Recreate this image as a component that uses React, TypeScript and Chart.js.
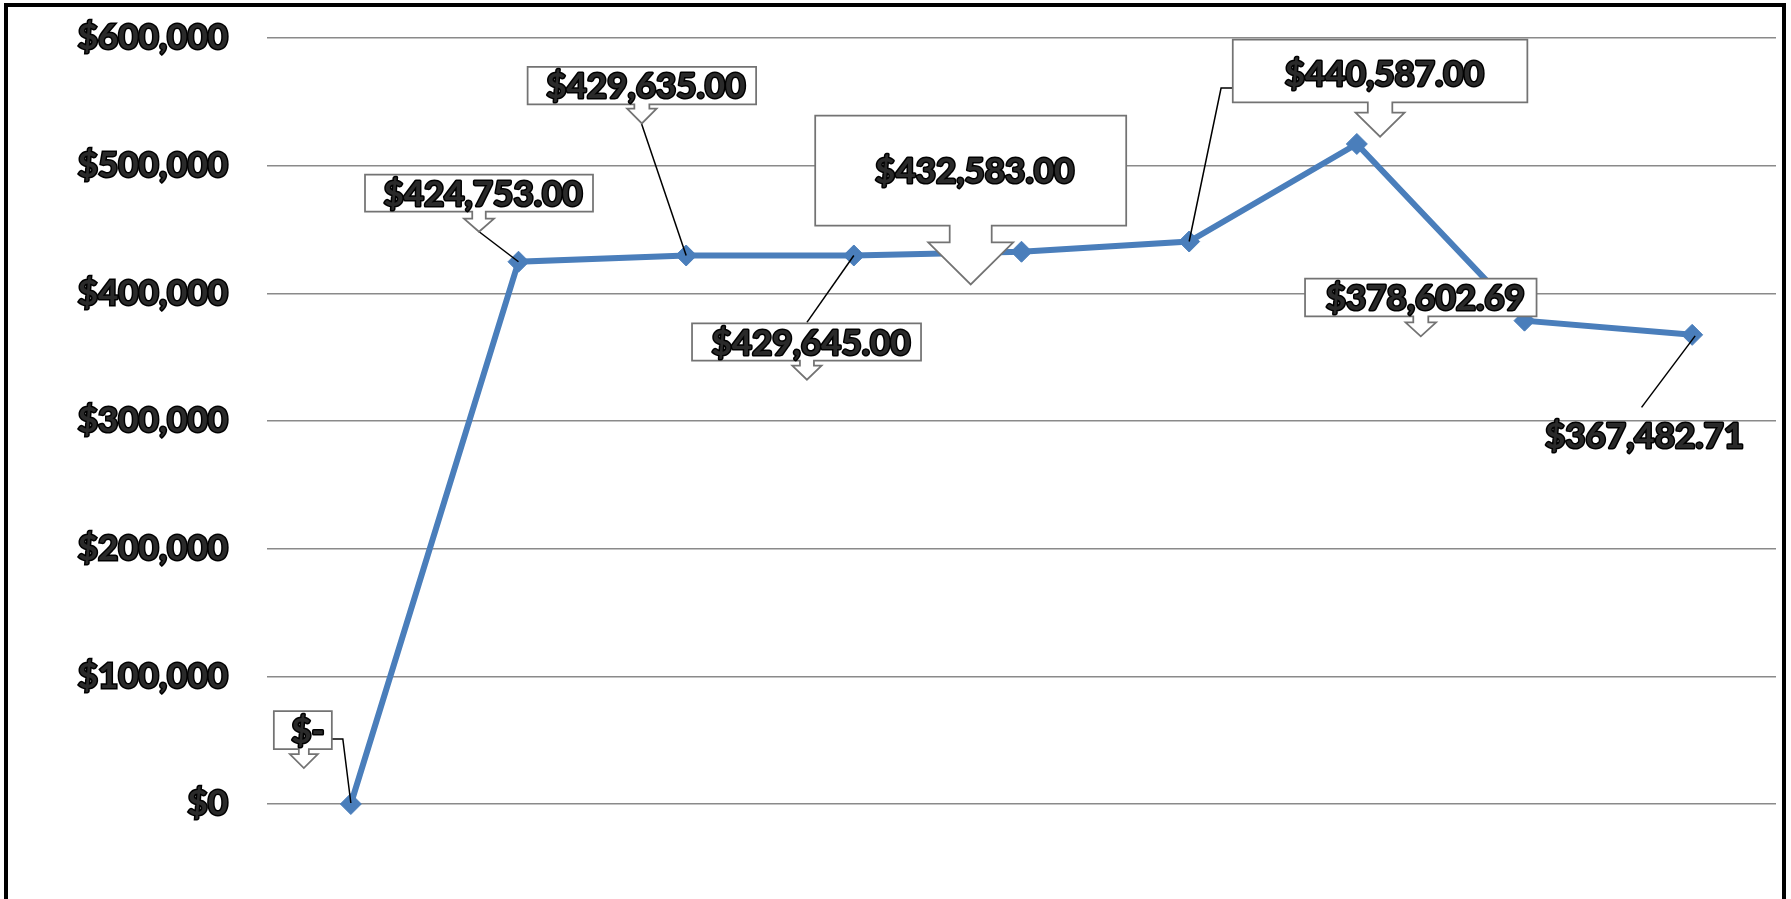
import React, { useEffect, useRef } from "react";
import { Chart, registerables } from "chart.js";

Chart.register(...registerables);

// ---- data ----
const periods = ["1", "2", "3", "4", "5", "6", "7", "8", "9"];
const balances = [0, 424753, 429635, 429645, 432583, 440587, 517000, 378602.69, 367482.71];
const showLabel = [true, true, true, true, true, true, false, true, true];
const Y_MIN = 0;
const Y_MAX = 600000;
const Y_STEP = 100000;

const tickText = (v: number) => "$" + v.toLocaleString("en-US");
const labelText = (v: number) =>
  v === 0
    ? "$-"
    : "$" + v.toLocaleString("en-US", { minimumFractionDigits: 2, maximumFractionDigits: 2 });

// ---- callout layout (pixel offsets relative to the data point they belong to) ----
type Callout = {
  point: number;
  box?: { dx: number; dy: number; w: number; h: number };
  arrow?: { off: number; sw: number; hw: number; sl: number; hl: number };
  text: { dx: number; dy: number };
  leader?: number[][];
};
const callouts: Callout[] = [
  {
    point: 0,
    box: { dx: -48, dy: -74, w: 58, h: 38 },
    arrow: { off: 1, sw: 10, hw: 28, sl: 5, hl: 14 },
    text: { dx: 5, dy: 0 },
    leader: [[-19, -65], [-8, -65], [0, -1]],
  },
  {
    point: 1,
    box: { dx: -39.5, dy: -68.5, w: 228, h: 37 },
    arrow: { off: 0, sw: 13.5, hw: 30, sl: 7, hl: 13 },
    text: { dx: 4, dy: 0 },
    leader: [[-39.4, -30], [0, 0]],
  },
  {
    point: 2,
    box: { dx: -44.3, dy: -169.8, w: 228.5, h: 37.4 },
    arrow: { off: 0, sw: 15, hw: 29.5, sl: 4.3, hl: 14.7 },
    text: { dx: 4, dy: 0 },
    leader: [[-44.7, -132.1], [0, 0]],
  },
  {
    point: 3,
    box: { dx: -47.3, dy: 86.6, w: 229, h: 37.3 },
    arrow: { off: 0.4, sw: 14, hw: 29.3, sl: 5, hl: 14 },
    text: { dx: 4.5, dy: 0 },
    leader: [[-46.9, 66.9], [0, 0]],
  },
  {
    point: 4,
    box: { dx: -50.8, dy: -81, w: 311, h: 110 },
    arrow: { off: 0, sw: 42, hw: 85, sl: 16.7, hl: 42 },
    text: { dx: 4, dy: 0 },
  },
  {
    point: 5,
    box: { dx: 190.9, dy: -170.5, w: 294.6, h: 62.7 },
    arrow: { off: 0, sw: 24.5, hw: 49, sl: 10.3, hl: 24 },
    text: { dx: 4.3, dy: 2 },
    leader: [[43.6, -153.5], [31.9, -153.5], [0, 0]],
  },
  {
    point: 7,
    box: { dx: -103.7, dy: -23.2, w: 231.5, h: 37.7 },
    arrow: { off: 0, sw: 15, hw: 30.6, sl: 6, hl: 14 },
    text: { dx: 4.5, dy: 0 },
  },
  {
    point: 8,
    text: { dx: -47.6, dy: 100.8 },
    leader: [[-50.6, 72.5], [3, 1]],
  },
];

const FONT_FAMILY = "Lato, 'Noto Sans', sans-serif";
const FONT_SIZE = 35;
const LINE_COLOR = "#4a7ebb";
const TEXT_FILL = "#2a2a2a";
const TEXT_STROKE = "#000000";
const TEXT_STROKE_W = 3;

const calloutPlugin = {
  id: "callouts",
  afterDatasetsDraw(chart: any) {
    const ctx: CanvasRenderingContext2D = chart.ctx;
    const meta = chart.getDatasetMeta(0);
    ctx.save();
    for (const c of callouts) {
      if (!showLabel[c.point]) continue;
      const el = meta.data[c.point];
      const px = el.x;
      const py = el.y;
      if (c.leader) {
        ctx.beginPath();
        c.leader.forEach((p, i) => {
          if (i === 0) ctx.moveTo(px + p[0], py + p[1]);
          else ctx.lineTo(px + p[0], py + p[1]);
        });
        ctx.strokeStyle = "#000";
        ctx.lineWidth = 1.5;
        ctx.lineJoin = "miter";
        ctx.stroke();
      }
      let cx = px + c.text.dx;
      let cy = py + c.text.dy;
      if (c.box) {
        const bx = px + c.box.dx;
        const by = py + c.box.dy;
        const L = bx - c.box.w / 2;
        const R = bx + c.box.w / 2;
        const T = by - c.box.h / 2;
        const B = by + c.box.h / 2;
        ctx.beginPath();
        ctx.moveTo(L, T);
        ctx.lineTo(R, T);
        ctx.lineTo(R, B);
        if (c.arrow) {
          const a = c.arrow;
          const ax = bx + a.off;
          ctx.lineTo(ax + a.sw / 2, B);
          ctx.lineTo(ax + a.sw / 2, B + a.sl);
          ctx.lineTo(ax + a.hw / 2, B + a.sl);
          ctx.lineTo(ax, B + a.sl + a.hl);
          ctx.lineTo(ax - a.hw / 2, B + a.sl);
          ctx.lineTo(ax - a.sw / 2, B + a.sl);
          ctx.lineTo(ax - a.sw / 2, B);
        }
        ctx.lineTo(L, B);
        ctx.closePath();
        ctx.fillStyle = "#ffffff";
        ctx.fill();
        ctx.strokeStyle = "#737373";
        ctx.lineWidth = 1.75;
        ctx.lineJoin = "miter";
        ctx.stroke();
        cx = bx + c.text.dx;
        cy = by + c.text.dy;
      }
      const txt = labelText(balances[c.point]);
      ctx.font = `bold ${FONT_SIZE}px ${FONT_FAMILY}`;
      ctx.textAlign = "center";
      ctx.textBaseline = "alphabetic";
      const baseY = cy + FONT_SIZE * 0.36;
      ctx.lineJoin = "round";
      ctx.strokeStyle = TEXT_STROKE;
      ctx.lineWidth = TEXT_STROKE_W;
      ctx.strokeText(txt, cx, baseY);
      ctx.fillStyle = TEXT_FILL;
      ctx.fillText(txt, cx, baseY);
    }
    ctx.restore();
  },
};

export default function App() {
  const canvasRef = useRef<HTMLCanvasElement | null>(null);

  useEffect(() => {
    const canvas = canvasRef.current;
    if (!canvas) return;
    const chart = new Chart(canvas, {
      type: "line",
      data: {
        labels: periods,
        datasets: [
          {
            data: balances,
            borderColor: LINE_COLOR,
            backgroundColor: LINE_COLOR,
            borderWidth: 6,
            pointStyle: "rectRot",
            pointRadius: 10.5,
            pointBorderWidth: 1,
            pointBackgroundColor: LINE_COLOR,
            pointBorderColor: LINE_COLOR,
            tension: 0,
            clip: false as any,
          },
        ],
      },
      options: {
        responsive: false,
        animation: false,
        devicePixelRatio: 1,
        layout: { padding: { left: 0, top: 38, right: 15, bottom: 95 } },
        plugins: {
          legend: { display: false },
          tooltip: { enabled: false },
        },
        scales: {
          x: {
            type: "category",
            display: false,
            offset: true,
          },
          y: {
            min: Y_MIN,
            max: Y_MAX,
            afterFit: (scale: any) => {
              scale.width = 267;
              scale.paddingTop = 0;
              scale.paddingBottom = 0;
            },
            border: { display: false },
            grid: {
              color: "#8a8a8a",
              lineWidth: 1.5,
              drawTicks: false,
            },
            ticks: {
              stepSize: Y_STEP,
              padding: 39,
              color: TEXT_FILL,
              textStrokeColor: TEXT_STROKE,
              textStrokeWidth: TEXT_STROKE_W,
              font: { family: FONT_FAMILY, size: FONT_SIZE, weight: "bold" },
              callback: (v: any) => tickText(Number(v)),
            },
          },
        },
      } as any,
      plugins: [calloutPlugin],
    });
    return () => chart.destroy();
  }, []);

  return (
    <>
      <canvas
        ref={canvasRef}
        width={1791}
        height={899}
        style={{ position: "fixed", left: 0, top: 0, width: 1791, height: 899, background: "#fff" }}
      />
      <div
        style={{
          position: "fixed",
          left: 4,
          top: 3,
          width: 1782,
          height: 1000,
          boxSizing: "border-box",
          border: "4px solid #000",
          pointerEvents: "none",
        }}
      />
    </>
  );
}
